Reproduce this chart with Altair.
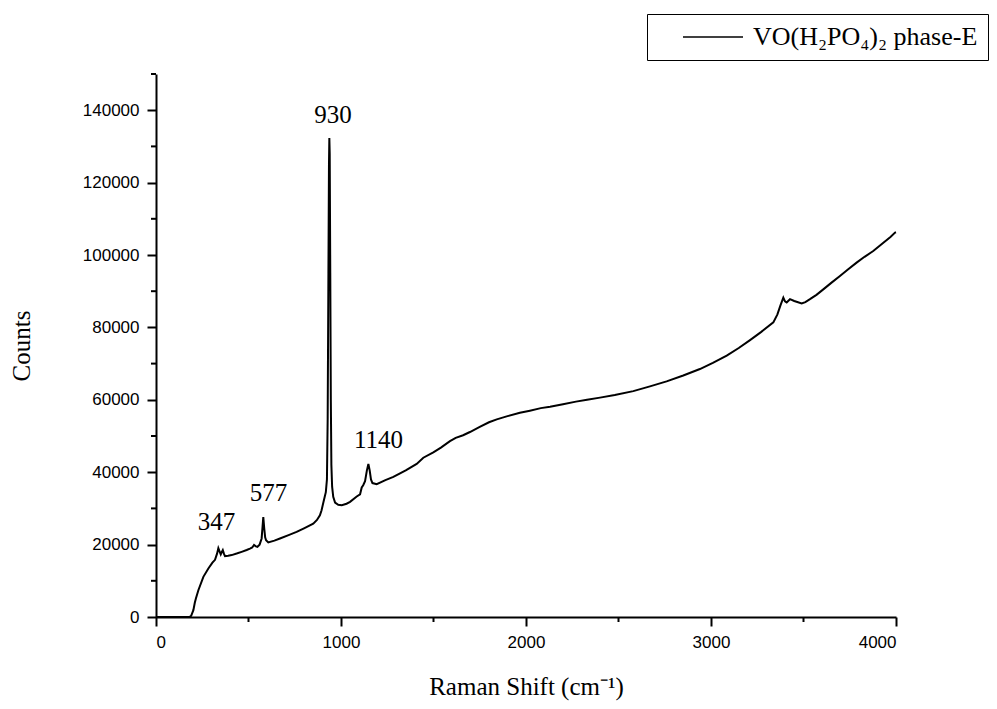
import altair as alt
import pandas as pd

# Raman spectrum
shift = [0, 100, 180, 190, 202, 210, 216, 229, 256, 283, 305, 319, 330, 337, 343, 350, 356, 361, 367, 373,
         390, 409, 440, 463, 490, 508, 520, 530, 540, 548, 560, 571, 576, 580, 585, 590, 595, 607, 640, 670,
         720, 760, 800, 850, 870, 886, 895, 904, 912, 918, 924, 928, 932, 935, 937, 939, 942, 945, 948, 952,
         958, 968, 985, 1004, 1030, 1049, 1085, 1103, 1112, 1120, 1130, 1140, 1148, 1155, 1162, 1170, 1193,
         1240, 1283, 1301, 1350, 1409, 1445, 1499, 1540, 1589, 1620, 1660, 1697, 1750, 1800, 1842, 1900,
         1967, 2021, 2080, 2130, 2200, 2270, 2330, 2400, 2480, 2580, 2670, 2760, 2850, 2940, 3010, 3085,
         3150, 3211, 3270, 3337, 3359, 3375, 3391, 3400, 3409, 3427, 3450, 3490, 3510, 3535, 3570, 3607,
         3650, 3697, 3740, 3787, 3830, 3877, 3930, 3970, 3995, 4000]
counts = [0, 0, 0, 300, 1900, 4000, 5200, 7400, 11100, 13400, 15000, 15800, 17500, 19000, 18200, 17300, 18000, 18500, 17500, 16800,
          16900, 17100, 17600, 18000, 18500, 18900, 19200, 19900, 19500, 19400, 20000, 21700, 25000, 27600, 24500, 22000, 21200, 20600, 21100, 21700,
          22700, 23500, 24500, 25800, 26800, 28100, 29500, 31500, 33200, 34500, 38000, 55000, 95000, 125000, 132300, 128000, 95000, 60000, 42000, 36000,
          33200, 31600, 31000, 30900, 31300, 31800, 33300, 33900, 35800, 36400, 37500, 40500, 42300, 40500, 38000, 37000, 36700,
          37800, 38700, 39200, 40500, 42300, 44000, 45500, 46800, 48600, 49500, 50200, 51100, 52500, 53800, 54600, 55500,
          56400, 57000, 57700, 58100, 58800, 59500, 60000, 60600, 61300, 62400, 63700, 65100, 66700, 68500, 70200, 72200,
          74300, 76500, 78700, 81400, 83600, 86000, 88200, 87200, 86900, 87800, 87300, 86600, 87000, 87800, 89000, 90500,
          92300, 94200, 96000, 97900, 99500, 101100, 103300, 105000, 106200, 106300]

series_name = "VO(H\u2082PO\u2084)\u2082 phase-E"

peak_labels = ["347", "577", "930", "1140"]
peak_label_x = [327, 608, 957, 1203]
peak_label_y = [26300, 34300, 138600, 49000]

y_major = list(range(0, 140001, 20000))
y_minor = list(range(10000, 150001, 20000))
x_major = [0, 1000, 2000, 3000, 4000]
x_minor = [500, 1500, 2500, 3500]

W, H = 740, 543

df = pd.DataFrame({"shift": shift, "counts": counts, "series": series_name})
lab = pd.DataFrame({"shift": peak_label_x, "counts": peak_label_y, "t": peak_labels})
ymin = pd.DataFrame({"counts": y_minor})
xmin = pd.DataFrame({"shift": x_minor})

xscale = alt.Scale(domain=[0, 4000], nice=False, zero=False)
yscale = alt.Scale(domain=[0, 150000], nice=False)
xaxis = alt.Axis(values=x_major, format="d", ticks=True, tickSize=9, tickColor="black", tickWidth=2,
                 labelPadding=8, titlePadding=24)
yaxis = alt.Axis(values=y_major, format="d", ticks=True, tickSize=9, tickColor="black", tickWidth=2,
                 labelPadding=8, titlePadding=48)
XT = "Raman Shift (cm\u207B\u00B9)"
YT = "Counts"


def xe():
    return alt.X("shift:Q", scale=xscale, axis=xaxis, title=XT)


def ye():
    return alt.Y("counts:Q", scale=yscale, axis=yaxis, title=YT)


line = alt.Chart(df).mark_line(strokeWidth=2, interpolate="linear").encode(
    x=xe(), y=ye(),
    color=alt.Color("series:N", scale=alt.Scale(range=["black"]),
                    legend=alt.Legend(title=None, orient="none", legendX=491, legendY=-60,
                                      strokeColor="black", fillColor="white", padding=10,
                                      symbolType="M-3,0H3", symbolSize=400, symbolStrokeWidth=1.5,
                                      symbolOffset=43, labelOffset=27,
                                      labelFont="Liberation Serif", labelFontSize=26,
                                      labelColor="black", labelLimit=500)),
)

text = alt.Chart(lab).mark_text(font="Liberation Serif", fontSize=25, color="black",
                                align="center", baseline="middle").encode(
    x=xe(), y=ye(), text="t:N",
)

yminor = alt.Chart(ymin).mark_rule(color="black", strokeWidth=2).encode(
    y=ye(), x=alt.value(-5), x2=alt.value(0),
)
xminor = alt.Chart(xmin).mark_rule(color="black", strokeWidth=2).encode(
    x=xe(), y=alt.value(H), y2=alt.value(H + 5),
)

chart = alt.layer(line, text, yminor, xminor).properties(
    width=W, height=H,
    autosize=alt.AutoSizeParams(type="none"),
    padding={"left": 148, "top": 66, "right": 93, "bottom": 84},
).configure_view(stroke=None).configure_axis(
    grid=False, domainColor="black", domainWidth=2,
    labelFont="Liberation Sans", labelFontSize=17, labelColor="black",
    titleFont="Liberation Serif", titleFontSize=25, titleFontWeight="normal", titleColor="black",
)

chart.save("out.html", embed_options={"renderer": "svg", "actions": False})
